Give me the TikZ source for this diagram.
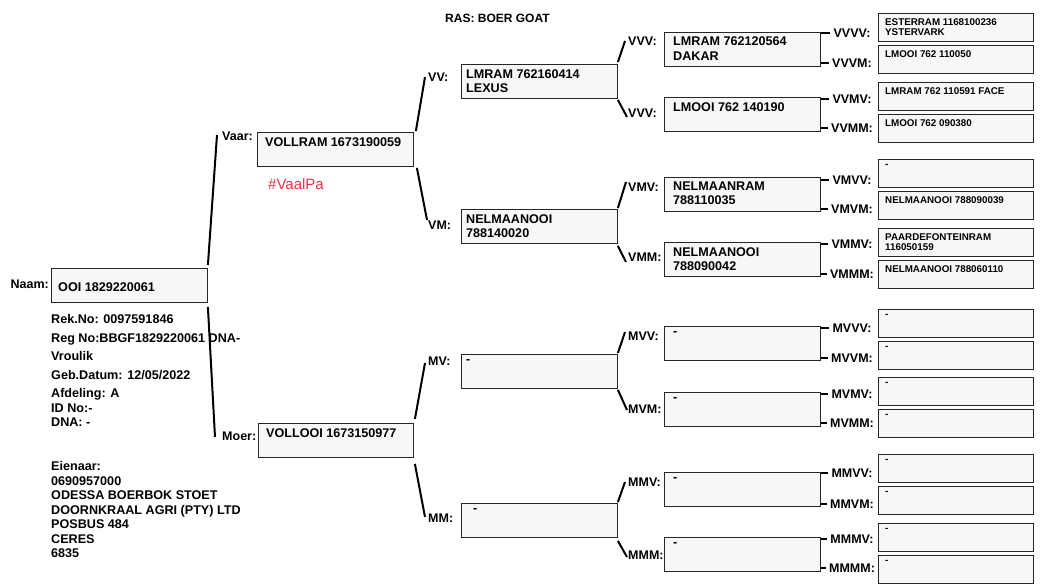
\documentclass[tikz,border=0pt]{standalone}
\usepackage{fontspec}
\setmainfont{Liberation Sans}
\usetikzlibrary{positioning}
\definecolor{vaalred}{RGB}{232,50,72}
\tikzset{
	animal/.style={draw=black!85, line width=0.9pt, fill=black!3, rectangle, inner sep=0pt, minimum width=156pt, minimum height=34pt, anchor=north west},
	greatgp/.style={animal, minimum width=155pt, minimum height=28pt},
	intext/.style={anchor=north west, inner sep=0pt, align=left, xshift=8pt, yshift=-5pt, font=\bfseries\fontsize{12.6}{14}\selectfont},
	greattext/.style={anchor=north west, inner sep=0pt, align=left, xshift=7pt, yshift=-5pt, font=\bfseries\fontsize{9.8}{10}\selectfont},
	relation/.style={anchor=west, inner sep=0pt, font=\bfseries\fontsize{12.5}{14}\selectfont},
	details/.style={anchor=north west, inner sep=0pt, align=left, font=\bfseries\fontsize{12.6}{14.5}\selectfont},
	link/.style={line width=2pt},
}

\begin{document}
\begin{tikzpicture}[x=1pt, y=-1pt]
	\useasboundingbox (0,0) rectangle (1041,584);
	
	\node (ras) [relation, font=\bfseries\fontsize{12}{14}\selectfont] at (445,18) {RAS: BOER GOAT};
	
	% the animal itself
	\node (ooi) [animal] at (51,268) {};
	\node (ooi-t) [intext, xshift=-1pt, yshift=-9pt] at (ooi.north west) {OOI 1829220061};
	\node (lnaam) [relation, anchor=east] at (49,284) {Naam:};
	\node (info) [details] at (51,314.5) {Rek.No: 0097591846\\[4pt]Reg No:BBGF1829220061 DNA-\\[4pt]Vroulik\\[4pt]Geb.Datum: 12/05/2022\\[4pt]Afdeling: A\\ID No:-\\DNA: -};
	\node (owner) [details] at (51,461.5) {Eienaar:\\0690957000\\ODESSA BOERBOK STOET\\DOORNKRAAL AGRI (PTY) LTD\\POSBUS 484\\CERES\\6835};
	
	% parents
	\node (vaar) [animal] at (257,132) {};
	\node (vaar-t) [intext] at (vaar.north west) {VOLLRAM 1673190059};
	\node (lvaar) [relation] at (222,136) {Vaar:};
	\node (vaalpa) [anchor=west, inner sep=0pt, text=vaalred, font=\fontsize{15}{17}\selectfont] at (268,184) {\#VaalPa};
	\node (moer) [animal, minimum width=155pt] at (258,423) {};
	\node (moer-t) [intext] at (moer.north west) {VOLLOOI 1673150977};
	\node (lmoer) [relation] at (222,436) {Moer:};
	
	% grandparents
	\foreach \n/\y/\dx/\txt in {vv/64/-3/{LMRAM 762160414\\LEXUS}, vm/209/-3/{NELMAANOOI\\788140020}, mv/354/-3/-, mm/503/4/-}{
		\node (\n) [animal] at (461,\y) {};
		\node (\n-t) [intext, xshift=\dx pt] at (\n.north west) {\txt};
	}
	\node (lvv) [relation] at (428,77) {VV:};
	\node (lvm) [relation] at (428,225) {VM:};
	\node (lmv) [relation] at (428,361) {MV:};
	\node (lmm) [relation] at (428,518) {MM:};
	
	% great-grandparents
	\foreach \n/\y/\txt in {vvv/32/{LMRAM 762120564\\DAKAR}, vvm/97/{LMOOI 762 140190}, vmv/177/{NELMAANRAM\\788110035}, vmm/242/{NELMAANOOI\\788090042}, mvv/326/-, mvm/392/-, mmv/472/-, mmm/537/-}{
		\node (\n) [animal] at (664,\y) {};
		\node (\n-t) [intext, xshift=1pt] at (\n.north west) {\txt};
	}
	\foreach \n/\y/\lab in {vvv/41/VVV:, vvm/113/VVV:, vmv/187/VMV:, vmm/257/VMM:, mvv/336/MVV:, mvm/409/MVM:, mmv/482/MMV:, mmm/555/MMM:}
		\node (l\n) [relation] at (628,\y) {\lab};
	
	\begin{scope}[link]
		\draw ([yshift=3pt]ooi.north east) -- ([xshift=-5pt, yshift=1pt]lvaar.west);
		\draw ([yshift=-4pt]ooi.south east) -- ([xshift=-7pt, yshift=-1pt]lmoer.west);
		\draw ([xshift=2pt, yshift=1pt]vaar.north east) -- ([xshift=-3pt]lvv.west);
		\draw ([xshift=3pt, yshift=-1pt]vaar.south east) -- ([xshift=-1pt, yshift=5pt]lvm.west);
		\draw ([xshift=1pt, yshift=4pt]moer.north east) -- ([xshift=-3pt, yshift=-2pt]lmv.west);
		\draw ([xshift=1pt, yshift=-6pt]moer.south east) -- ([xshift=-3pt, yshift=1pt]lmm.west);
		\draw ([yshift=2pt]vv.north east) -- ([xshift=-3pt]lvvv.west);
		\draw ([yshift=-1pt]vv.south east) -- ([xshift=-1pt, yshift=-4pt]lvvm.west);
		\draw ([yshift=1pt]vm.north east) -- ([xshift=-2pt, yshift=5pt]lvmv.west);
		\draw ([yshift=-2pt]vm.south east) -- ([xshift=-2pt, yshift=-5pt]lvmm.west);
		\draw ([yshift=1pt]mv.north east) -- ([xshift=-3pt, yshift=4pt]lmvv.west);
		\draw ([yshift=-1pt]mv.south east) -- ([xshift=-1pt, yshift=-1pt]lmvm.west);
		\draw ([yshift=1pt]mm.north east) -- ([xshift=-3pt]lmmv.west);
		\draw ([yshift=-3pt]mm.south east) -- ([xshift=-1pt, yshift=-2pt]lmmm.west);
	\end{scope}
	
	% great-great-grandparents
	\foreach \p/\n/\y/\ly/\lab/\txt in {
		vvv/vvvv/13/33/VVVV:/{ESTERRAM 1168100236\\YSTERVARK},
		vvv/vvvm/45/63/VVVM:/{LMOOI 762 110050},
		vvm/vvmv/82/99/VVMV:/{LMRAM 762 110591 FACE},
		vvm/vvmm/114/128/VVMM:/{LMOOI 762 090380},
		vmv/vmvv/159/180/VMVV:/-,
		vmv/vmvm/191/209/VMVM:/{NELMAANOOI 788090039},
		vmm/vmmv/228/244/VMMV:/{PAARDEFONTEINRAM\\116050159},
		vmm/vmmm/260/274/VMMM:/{NELMAANOOI 788060110},
		mvv/mvvv/309/328/MVVV:/-,
		mvv/mvvm/341/358/MVVM:/-,
		mvm/mvmv/377/394/MVMV:/-,
		mvm/mvmm/409/423/MVMM:/-,
		mmv/mmvv/454/473/MMVV:/-,
		mmv/mmvm/486/504/MMVM:/-,
		mmm/mmmv/523/539/MMMV:/-,
		mmm/mmmm/555/568/MMMM:/-}{
		\node (\n) [greatgp] at (878,\y) {};
		\node (\n-t) [greattext] at (\n.north west) {\txt};
		\node (l\n) [relation, anchor=center] at (852,\ly) {\lab};
		\draw [link] (\p.east |- l\n.west) -- ([xshift=-3pt]l\n.west);
	}
\end{tikzpicture}
\end{document}
